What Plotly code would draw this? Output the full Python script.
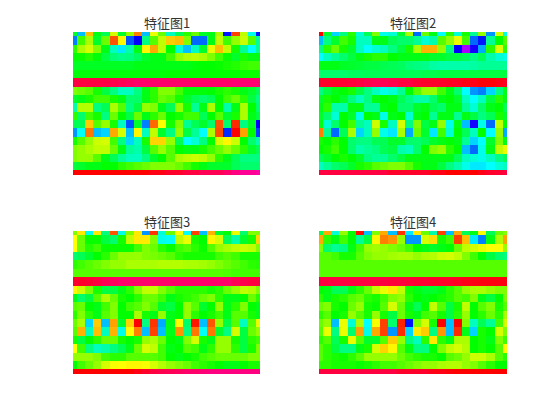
import plotly.graph_objects as go

# Cell values (on the scale of the circular colour map, 0-360)
feature_1 = [
 [130,195,45,125,140,70,130,85,30,195,65,95,165,140,110,95,130,125,80,235,15,75,175,235],
 [210,105,80,130,95,20,58,220,240,150,100,75,48,45,90,215,215,125,75,105,85,72,100,155],
 [110,80,70,90,125,165,185,160,125,58,40,75,120,170,195,165,130,65,45,75,115,155,180,155],
 [120,118,112,122,135,148,152,150,142,130,125,125,105,85,78,76,80,90,105,118,130,115,125,125],
 [128,128,128,128,128,128,128,128,125,125,125,125,125,125,125,122,120,120,118,115,112,108,105,105],
 [122,122,122,122,122,122,122,122,122,122,122,122,120,120,120,120,120,120,120,120,120,118,118,118],
 [345,345,345,345,344,342,340,338,335,335,335,335,335,335,335,335,335,335,335,335,333,333,333,333],
 [90,95,100,115,135,150,165,165,150,125,110,90,90,105,122,122,122,120,115,110,115,125,130,140],
 [130,125,115,105,105,115,125,145,145,125,110,95,100,115,130,140,145,140,120,105,95,110,135,150],
 [160,78,78,150,140,80,100,150,135,85,90,125,140,85,115,155,125,80,120,160,125,80,120,145],
 [110,145,105,115,150,95,120,135,95,125,110,95,120,115,105,105,140,120,100,130,115,80,125,135],
 [140,140,48,100,85,115,165,220,130,210,25,60,115,90,155,140,130,145,20,145,10,150,130,240],
 [205,178,28,195,190,40,70,195,58,165,75,130,150,85,135,155,180,80,18,230,0,38,120,225],
 [115,100,85,72,70,105,150,190,165,115,50,50,85,140,180,170,150,120,70,58,72,120,145,160],
 [90,85,80,75,75,95,125,155,160,135,100,85,100,120,125,125,115,105,95,85,95,110,130,140],
 [90,85,85,100,125,140,155,165,165,150,130,120,100,80,75,72,75,85,110,125,140,150,150,150],
 [135,130,125,125,120,120,110,105,100,95,90,90,90,95,105,115,125,130,130,130,140,145,145,145],
 [0,0,0,0,0,0,0,0,0,0,355,355,350,350,345,345,340,340,340,335,330,325,325,322],
]
feature_2 = [
 [0,130,190,150,110,170,140,90,175,170,130,80,215,95,125,180,110,170,115,155,85,205,70,175],
 [195,150,130,105,115,165,165,125,125,140,145,145,155,170,160,100,85,65,105,215,235,155,120,100],
 [150,110,95,115,130,165,180,170,165,150,135,115,80,42,42,85,150,240,280,245,200,110,68,110],
 [180,165,155,145,135,125,115,110,110,120,125,125,125,125,130,130,135,135,140,150,140,160,170,175],
 [125,125,125,128,130,132,135,135,138,140,142,148,150,152,158,160,160,160,160,158,155,155,155,155],
 [145,145,145,145,142,142,140,140,140,140,140,140,140,138,138,135,135,135,135,135,135,135,135,135],
 [350,350,350,348,346,345,342,340,340,342,345,345,348,350,350,350,352,352,355,355,358,358,355,352],
 [150,135,125,120,115,135,150,165,175,170,155,120,100,85,85,105,125,145,180,205,210,190,150,125],
 [130,115,120,130,150,165,150,125,120,125,140,150,160,160,145,125,120,130,165,180,165,135,110,125],
 [125,110,160,160,125,125,155,155,125,120,145,145,130,125,140,145,125,125,155,170,145,125,120,140],
 [130,145,170,120,130,175,120,125,175,125,120,170,125,120,155,125,125,155,125,135,150,140,115,130],
 [125,170,145,120,105,155,165,72,115,165,70,150,90,135,125,85,175,125,195,245,175,215,75,120],
 [30,155,215,140,80,190,165,85,175,185,80,200,95,130,185,105,170,120,140,165,120,180,85,200],
 [115,120,110,120,145,150,150,140,140,130,130,145,145,140,130,125,120,125,155,190,180,130,90,125],
 [120,115,105,120,145,160,155,150,140,135,160,165,145,120,90,85,110,120,195,215,175,125,75,65],
 [140,130,120,115,120,130,150,155,155,145,135,125,125,125,125,125,125,140,165,170,175,165,150,140],
 [165,155,145,140,130,115,110,100,95,90,90,100,115,125,125,135,150,160,175,185,185,180,170,165],
 [345,345,345,345,345,345,345,345,345,350,350,350,350,350,355,355,0,0,0,0,355,350,348,345],
]
feature_3 = [
 [90,55,175,55,150,20,175,90,55,205,12,170,95,60,180,15,195,42,130,120,65,145,90,90],
 [60,95,118,118,135,145,115,75,55,55,90,175,178,75,65,115,120,58,70,140,160,130,115,50],
 [60,95,112,105,118,118,118,118,105,90,95,110,118,105,100,110,118,100,85,80,75,72,75,90],
 [145,140,130,120,110,95,85,85,85,90,92,95,100,110,115,115,115,115,105,100,105,115,115,115],
 [110,105,100,95,90,85,85,80,80,80,80,78,78,78,80,80,82,85,90,95,100,105,110,112],
 [100,100,100,100,100,100,100,100,100,100,100,100,100,100,100,100,100,100,100,102,105,105,105,105],
 [350,350,348,345,340,338,335,335,335,335,335,335,335,335,335,335,335,335,335,335,340,342,345,345],
 [58,72,90,115,135,135,125,110,90,75,75,90,100,110,110,110,110,115,110,95,85,75,78,90],
 [125,145,135,100,80,95,115,120,110,95,95,105,125,115,110,105,95,90,110,125,125,120,95,110],
 [100,95,120,125,105,90,120,105,100,90,100,130,135,120,85,100,130,120,85,125,110,90,120,125],
 [110,90,110,125,100,90,120,120,80,115,125,85,125,120,85,110,120,115,105,125,100,100,115,125],
 [95,80,190,48,195,38,130,50,0,150,12,200,125,60,145,5,195,20,85,135,100,165,100,65],
 [100,42,165,45,165,42,175,60,30,195,15,195,125,35,150,28,178,28,130,150,70,135,95,85],
 [115,135,120,110,95,95,115,120,115,85,80,95,120,125,90,70,115,125,85,85,115,135,110,105],
 [60,105,150,165,160,150,140,125,95,70,75,105,125,120,100,105,125,110,85,85,110,135,115,90],
 [85,85,85,90,105,110,110,100,100,100,100,105,120,125,120,115,105,100,95,95,95,95,90,90],
 [120,105,95,85,70,62,60,58,58,62,70,78,85,90,95,105,110,115,120,125,125,120,115,115],
 [0,0,0,0,0,0,0,0,355,350,345,342,340,338,335,335,332,330,330,330,330,330,330,330],
]
feature_4 = [
 [140,40,170,85,120,2,195,90,40,195,12,185,55,95,160,15,195,40,140,125,60,140,95,90],
 [40,110,125,105,120,155,135,58,30,35,85,205,205,70,52,115,105,15,45,185,210,125,80,38],
 [90,145,155,150,125,105,85,82,85,90,95,105,120,125,130,125,120,95,75,70,65,60,60,85],
 [100,100,105,115,115,100,90,85,85,82,80,80,85,80,78,72,70,75,90,105,120,135,145,150],
 [100,100,100,100,100,100,100,100,100,100,100,100,100,100,100,100,100,100,100,100,100,100,100,100],
 [100,100,100,100,100,100,100,100,100,100,100,100,100,100,100,100,100,100,100,100,100,100,100,100],
 [345,345,345,345,345,345,345,345,345,346,346,347,348,348,350,350,350,352,354,355,356,356,356,356],
 [120,125,140,140,125,110,95,75,65,55,75,115,125,130,130,125,110,100,85,80,80,85,90,90],
 [110,125,115,110,100,95,110,115,105,90,85,110,120,125,120,115,110,100,105,90,125,135,120,90],
 [95,90,115,120,95,85,115,118,100,70,95,125,140,120,75,100,135,115,75,120,100,90,115,100],
 [110,100,120,115,85,100,115,85,115,135,95,115,125,105,100,115,135,110,85,120,110,95,110,80],
 [95,85,195,65,170,80,180,62,15,145,8,235,90,70,115,0,195,0,90,165,140,155,105,70],
 [100,65,150,65,145,38,175,40,15,205,10,190,55,48,150,35,195,10,125,190,115,120,70,90],
 [110,100,140,115,65,100,130,130,100,48,85,150,165,110,55,110,125,80,80,120,115,125,90,105],
 [100,110,135,150,150,125,115,70,50,58,100,125,150,150,120,90,75,70,78,120,115,120,100,60],
 [100,110,115,118,110,100,85,85,85,85,95,105,110,115,115,120,100,95,85,72,72,80,100,110],
 [110,110,115,115,115,118,115,110,105,105,100,95,90,85,85,80,78,78,85,90,100,110,120,120],
 [345,345,345,345,345,345,345,345,345,345,350,350,350,350,355,355,358,0,0,0,0,0,0,0],
]
titles = ["特征图1", "特征图2", "特征图3", "特征图4"]
panels = [feature_1, feature_2, feature_3, feature_4]

W, H = 560, 420
PAGE = 8  # the page's own margin
colorscale = [[0, "#ff0000"], [1/6, "#ffff00"], [2/6, "#00ff00"], [3/6, "#00ffff"],
              [4/6, "#0000ff"], [5/6, "#ff00ff"], [1, "#ff0000"]]
boxes = [(73, 260, 32, 175), (319, 507, 32, 175), (73, 260, 231, 374), (319, 507, 231, 374)]

fig = go.Figure()
annotations = []
for i, (z, title, box) in enumerate(zip(panels, titles, boxes), start=1):
    x0, x1, y0, y1 = box[0] - PAGE, box[1] - PAGE, box[2] - PAGE, box[3] - PAGE
    fig.add_trace(go.Heatmap(z=z, zmin=0, zmax=360, colorscale=colorscale, showscale=False,
                             xaxis=f"x{i}", yaxis=f"y{i}", hoverongaps=False))
    axis = dict(visible=False, showgrid=False, zeroline=False, fixedrange=True)
    fig.layout[f"xaxis{i}"] = dict(domain=[x0 / W, x1 / W], range=[0, 23], anchor=f"y{i}", **axis)
    fig.layout[f"yaxis{i}"] = dict(domain=[1 - y1 / H, 1 - y0 / H], range=[17, 0], anchor=f"x{i}", **axis)
    annotations.append(dict(text=title, xref="paper", yref="paper", x=(x0 + x1) / 2 / W,
                            y=1 - (y0 - 9.5) / H, xanchor="center", yanchor="middle", showarrow=False,
                            font=dict(family="Noto Sans CJK SC", size=13, color="#333333")))

fig.update_layout(width=W, height=H, margin=dict(l=0, r=0, t=0, b=0),
                  paper_bgcolor="white", plot_bgcolor="white", annotations=annotations)
fig.write_html("out.html", config={"displayModeBar": False})
